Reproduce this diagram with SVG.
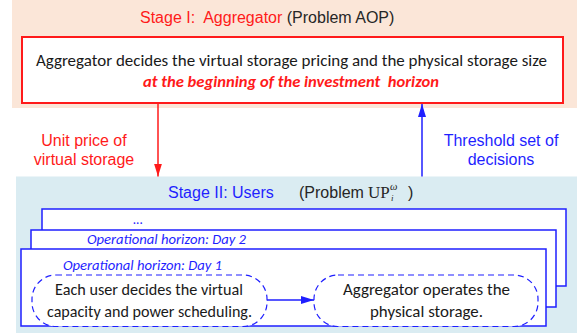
<svg xmlns="http://www.w3.org/2000/svg" width="583" height="333" viewBox="0 0 583 333">
<style>
.arial{font-family:"Liberation Sans",Arial,sans-serif;font-size:16px}
.cal{font-family:Carlito,Lato,"Open Sans",sans-serif;font-size:15.5px;fill:#1a1a1a}
.op{font-family:Carlito,Lato,"Open Sans",sans-serif;font-size:13.5px;font-style:italic;fill:#1f1fff}
.red{fill:#ff1a1a}
.blue{fill:#1f1fff}
.dark{fill:#262626}
.day{fill:#ffffff;stroke:#1f1fff;stroke-width:1.5}
.pill{fill:#ffffff;stroke:#1f1fff;stroke-width:1.2;stroke-dasharray:6 4}
.serif{font-family:"Liberation Serif","Times New Roman",serif}
</style>
<defs>
<marker id="ahR" viewBox="0 0 13 8" refX="13" refY="4" markerWidth="13" markerHeight="8" markerUnits="userSpaceOnUse" orient="auto"><path d="M0,0 L13,4 L0,8 Z" fill="#ff1a1a"/></marker>
<marker id="ahB" viewBox="0 0 13 8" refX="13" refY="4" markerWidth="13" markerHeight="8" markerUnits="userSpaceOnUse" orient="auto"><path d="M0,0 L13,4 L0,8 Z" fill="#1f1fff"/></marker>
</defs>
<g id="stage1">
<rect x="12" y="0" width="565" height="108" fill="#fbe6d8"/>
<text class="arial" x="140" y="23" xml:space="preserve"><tspan class="red">Stage I:  Aggregator</tspan><tspan class="dark"> (Problem AOP)</tspan></text>
</g>
<g id="aop-box">
<rect x="22" y="37" width="541" height="66" fill="#ffffff" stroke="#ff1a1a" stroke-width="2"/>
<text class="cal" x="36" y="66" textLength="511" lengthAdjust="spacingAndGlyphs">Aggregator decides the virtual storage pricing and the physical storage size</text>
<text class="cal" x="143" y="87" textLength="296" lengthAdjust="spacingAndGlyphs" style="font-style:italic;font-weight:bold;fill:#ff1a1a" xml:space="preserve">at the beginning of the investment  horizon</text>
</g>
<g id="stage2">
<rect x="16" y="176.5" width="561" height="156.5" fill="#daecf2"/>
<text class="arial blue" x="168" y="198">Stage II: Users</text>
<text class="arial dark" x="299" y="198">(Problem</text>
<text class="serif dark" x="368" y="198" style="font-size:17px">UP</text>
<text class="serif dark" x="391" y="201" style="font-size:9px;font-style:italic">i</text>
<text class="serif dark" x="390" y="190" style="font-size:10.5px;font-style:italic">ω</text>
<text class="arial dark" x="408" y="198">)</text>
</g>
<g id="day3">
<rect class="day" x="42" y="209" width="524" height="77"/>
<text class="op" x="138" y="224" text-anchor="middle">...</text>
</g>
<g id="day2">
<rect class="day" x="31" y="230" width="525" height="77"/>
<text class="op" x="87" y="244" textLength="159" lengthAdjust="spacingAndGlyphs">Operational horizon: Day 2</text>
</g>
<g id="day1">
<rect class="day" x="21" y="249" width="525" height="77"/>
<text class="op" x="63" y="270" textLength="159" lengthAdjust="spacingAndGlyphs">Operational horizon: Day 1</text>
</g>
<g id="user-node">
<rect class="pill" x="32" y="275" width="235" height="51.5" rx="24" ry="24"/>
<text class="cal" x="149" y="295" text-anchor="middle" textLength="188" lengthAdjust="spacingAndGlyphs">Each user decides the virtual</text>
<text class="cal" x="149.5" y="317" text-anchor="middle" textLength="205" lengthAdjust="spacingAndGlyphs">capacity and power scheduling.</text>
</g>
<g id="agg-node">
<rect class="pill" x="314" y="275" width="224" height="51.5" rx="24" ry="24"/>
<text class="cal" x="426.5" y="295" text-anchor="middle" textLength="167" lengthAdjust="spacingAndGlyphs">Aggregator operates the</text>
<text class="cal" x="426.5" y="317" text-anchor="middle" textLength="113" lengthAdjust="spacingAndGlyphs">physical storage.</text>
</g>
<g id="connectors">
<line x1="158" y1="104" x2="158" y2="176.5" stroke="#ff1a1a" stroke-width="1.5" marker-end="url(#ahR)"/>
<line x1="422" y1="176.5" x2="422" y2="104" stroke="#1f1fff" stroke-width="1.5" marker-end="url(#ahB)"/>
<line x1="267" y1="300" x2="314" y2="300" stroke="#1f1fff" stroke-width="1.5" marker-end="url(#ahB)"/>
<text class="arial red" x="84" y="146" text-anchor="middle">Unit price of</text>
<text class="arial red" x="84" y="165" text-anchor="middle">virtual storage</text>
<text class="arial blue" x="501" y="146" text-anchor="middle">Threshold set of</text>
<text class="arial blue" x="501" y="165" text-anchor="middle">decisions</text>
</g>
</svg>
